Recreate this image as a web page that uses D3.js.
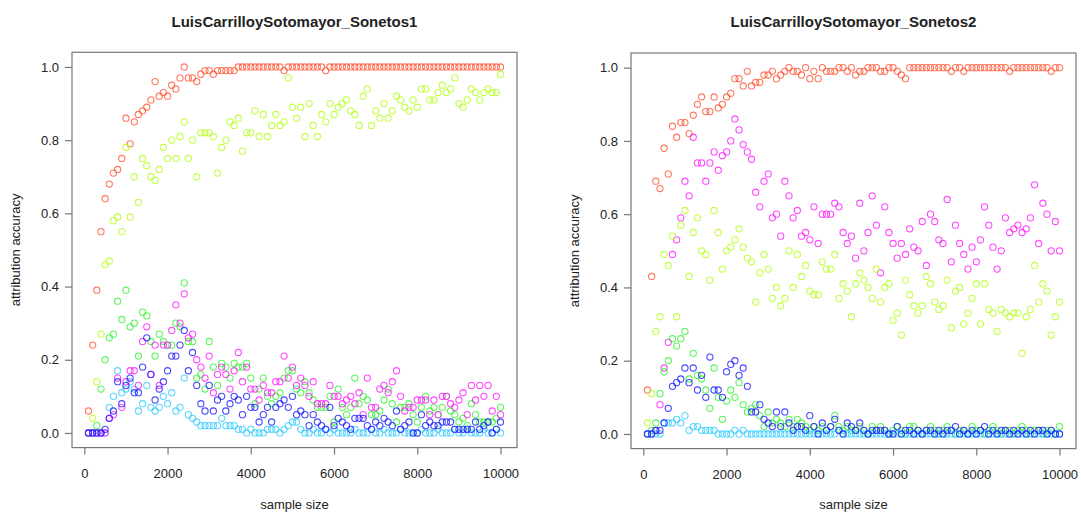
<!DOCTYPE html>
<html>
<head>
<meta charset="utf-8">
<script src="https://cdn.jsdelivr.net/npm/d3@7/dist/d3.min.js"></script>
<style>
  html, body { margin: 0; padding: 0; background: #ffffff; }
  svg { display: block; }
  text { font-family: "Liberation Sans", Arial, Helvetica, sans-serif; fill: #222; }
</style>
</head>
<body>
<svg id="chart" width="1081" height="518"></svg>
<script>
// ---------- data ----------
const sampleSizes = d3.range(100, 10001, 100);
const xTicks = [0, 2000, 4000, 6000, 8000, 10000];
const yTicks = [0.0, 0.2, 0.4, 0.6, 0.8, 1.0];
const titles = ["LuisCarrilloySotomayor_Sonetos1", "LuisCarrilloySotomayor_Sonetos2"];
const xLabel = "sample size";
const yLabel = "attribution accuracy";

const p1Red = [0.06,0.24,0.39,0.55,0.64,0.68,0.71,0.72,0.75,0.86,
 0.79,0.85,0.87,0.88,0.89,0.91,0.96,0.92,0.93,0.92,
 0.95,0.94,0.97,1.00,0.97,0.97,0.96,0.98,0.99,0.99,
 0.98,0.99,0.99,0.99,0.99,0.99,1,1,1,1,
 1,1,1,1,1,1,1,0.99,1,1,
 1,1,1,1,1,1,1,0.99,1,1,
 1,1,1,1,1,1,1,1,1,1,
 1,1,1,1,1,1,1,1,1,1,
 1,1,1,1,1,1,1,1,1,1,
 1,1,1,1,1,1,1,1,1,1];
const p1YellowGreen = [0.00,0.04,0.14,0.27,0.46,0.47,0.58,0.59,0.55,0.78,
 0.59,0.70,0.63,0.75,0.73,0.70,0.69,0.72,0.78,0.75,
 0.80,0.75,0.81,0.85,0.75,0.80,0.70,0.82,0.82,0.82,
 0.81,0.71,0.78,0.80,0.85,0.84,0.86,0.77,0.82,0.82,
 0.88,0.81,0.87,0.81,0.84,0.87,0.84,0.85,0.97,0.89,
 0.86,0.89,0.81,0.90,0.84,0.81,0.87,0.85,0.90,0.87,
 0.89,0.90,0.91,0.88,0.87,0.84,0.92,0.94,0.84,0.88,
 0.86,0.90,0.86,0.88,0.92,0.91,0.89,0.88,0.91,0.89,
 0.94,0.94,0.91,0.91,0.93,0.95,0.93,0.94,0.97,0.90,
 0.89,0.91,0.94,0.93,0.91,0.93,0.94,0.93,0.93,0.98];
const p1Green = [0.00,0.00,0.02,0.12,0.20,0.26,0.27,0.36,0.31,0.39,
 0.29,0.30,0.21,0.33,0.32,0.25,0.21,0.27,0.25,0.24,
 0.24,0.30,0.29,0.41,0.25,0.25,0.15,0.16,0.12,0.25,
 0.18,0.13,0.19,0.18,0.15,0.19,0.18,0.18,0.19,0.15,
 0.08,0.12,0.15,0.10,0.08,0.10,0.11,0.15,0.17,0.17,
 0.12,0.11,0.14,0.11,0.09,0.07,0.07,0.07,0.10,0.03,
 0.12,0.07,0.05,0.07,0.15,0.08,0.10,0.09,0.05,0.05,
 0.06,0.09,0.12,0.08,0.03,0.07,0.07,0.08,0.05,0.03,
 0.07,0.10,0.06,0.07,0.05,0.07,0.10,0.06,0.05,0.03,
 0.04,0.02,0.08,0.05,0.03,0.03,0.03,0.03,0.04,0.07];
const p1Magenta = [0,0,0,0,0,0.04,0.05,0.15,0.07,0.14,
 0.17,0.17,0.13,0.25,0.29,0.16,0.24,0.13,0.24,0.24,
 0.28,0.35,0.30,0.38,0.26,0.27,0.20,0.18,0.15,0.21,
 0.11,0.16,0.18,0.16,0.12,0.17,0.22,0.14,0.18,0.12,
 0.12,0.09,0.13,0.11,0.11,0.14,0.14,0.21,0.15,0.18,
 0.13,0.15,0.13,0.10,0.14,0.08,0.08,0.08,0.13,0.10,
 0.10,0.08,0.09,0.10,0.08,0.11,0.05,0.15,0.07,0.07,
 0.12,0.13,0.11,0.14,0.17,0.10,0.06,0.07,0.07,0.09,
 0.09,0.09,0.05,0.09,0.05,0.10,0.10,0.08,0.07,0.09,
 0.11,0.05,0.13,0.09,0.13,0.10,0.13,0.06,0.10,0.05];
const p1Blue = [0,0,0,0,0.01,0.04,0.06,0.14,0.08,0.13,
 0.15,0.11,0.11,0.18,0.26,0.16,0.09,0.12,0.14,0.17,
 0.21,0.21,0.24,0.28,0.17,0.22,0.13,0.08,0.06,0.13,
 0.06,0.09,0.10,0.06,0.08,0.10,0.09,0.05,0.10,0.07,
 0.07,0.03,0.05,0.07,0.03,0.07,0.08,0.09,0.07,0.10,
 0.05,0.06,0.05,0.02,0.05,0.03,0.02,0.01,0.07,0.02,
 0.04,0.03,0.02,0.01,0.04,0.04,0.04,0.02,0.01,0.03,
 0.02,0.04,0.03,0.02,0.06,0.01,0.02,0.03,0,0,
 0.05,0.02,0.03,0.02,0.02,0.03,0.03,0.03,0.01,0.01,
 0.01,0.01,0.01,0.03,0.01,0.02,0.03,0,0.01,0.03];
const p1Cyan = [0,0,0,0,0,0.07,0.10,0.17,0.11,0.12,
 0.14,0.12,0.06,0.08,0.13,0.07,0.06,0.07,0.10,0.08,
 0.11,0.06,0.07,0.15,0.05,0.04,0.03,0.02,0.02,0.02,
 0.02,0.02,0.04,0.02,0.02,0.02,0.01,0.01,0,0.01,
 0,0,0,0.01,0.01,0.01,0,0.01,0.02,0.03,
 0.03,0.01,0,0,0.01,0,0,0.01,0,0.01,
 0,0,0,0,0.01,0,0,0,0.01,0,
 0,0.01,0,0,0,0.01,0,0,0,0,
 0.01,0,0,0,0.01,0,0,0,0.01,0,
 0,0.01,0,0,0,0.01,0,0,0.01,0];

const p2Red = [0.12,0.43,0.69,0.67,0.78,0.71,0.84,0.81,0.85,0.85,
 0.82,0.87,0.90,0.92,0.88,0.88,0.92,0.89,0.90,0.92,
 0.93,0.97,0.97,0.95,0.99,0.95,0.96,0.96,0.98,0.98,
 0.99,0.97,0.98,0.99,1.00,0.99,0.99,0.98,1.00,0.97,
 0.99,0.97,1.00,0.99,0.99,0.99,1.00,1.00,0.99,1.00,
 0.98,0.99,0.99,1,1,1,0.99,0.99,1,1,
 0.99,0.98,0.97,1,1,1,1,1,1,1,
 1,1,1,0.99,1,1,0.99,1,1,1,
 1,1,1,1,1,1,1,0.99,1,1,
 1,1,1,1,1,1,1,0.99,1,1];
const p2Magenta = [0,0,0.01,0.08,0.18,0.25,0.49,0.53,0.59,0.69,
 0.65,0.81,0.74,0.74,0.69,0.74,0.77,0.72,0.76,0.77,
 0.80,0.86,0.83,0.79,0.77,0.75,0.66,0.62,0.69,0.71,
 0.59,0.60,0.54,0.69,0.65,0.59,0.61,0.54,0.55,0.53,
 0.62,0.52,0.60,0.60,0.60,0.63,0.62,0.55,0.52,0.54,
 0.48,0.63,0.50,0.55,0.65,0.57,0.44,0.62,0.55,0.52,
 0.48,0.52,0.49,0.56,0.51,0.50,0.58,0.46,0.60,0.58,
 0.53,0.52,0.64,0.47,0.57,0.52,0.49,0.45,0.51,0.47,
 0.53,0.62,0.57,0.51,0.45,0.50,0.59,0.55,0.56,0.57,
 0.55,0.56,0.59,0.68,0.52,0.63,0.60,0.50,0.58,0.50];
const p2YellowGreen = [0.03,0.11,0.28,0.32,0.49,0.46,0.54,0.32,0.57,0.61,
 0.43,0.55,0.59,0.50,0.49,0.42,0.61,0.55,0.45,0.50,
 0.51,0.53,0.56,0.51,0.48,0.47,0.36,0.44,0.49,0.45,
 0.37,0.40,0.35,0.37,0.50,0.40,0.49,0.43,0.46,0.39,
 0.38,0.38,0.47,0.45,0.45,0.49,0.37,0.41,0.39,0.32,
 0.41,0.44,0.42,0.40,0.37,0.45,0.36,0.40,0.41,0.31,
 0.33,0.27,0.42,0.38,0.35,0.33,0.35,0.43,0.41,0.36,
 0.34,0.35,0.42,0.29,0.39,0.40,0.30,0.33,0.37,0.41,
 0.30,0.41,0.34,0.33,0.28,0.34,0.33,0.32,0.33,0.33,
 0.22,0.32,0.34,0.46,0.36,0.41,0.39,0.27,0.32,0.36];
const p2Green = [0,0.01,0.03,0.11,0.17,0.20,0.26,0.24,0.26,0.28,
 0.15,0.22,0.16,0.15,0.12,0.07,0.18,0.10,0.04,0.09,
 0.12,0.10,0.14,0.08,0.06,0.07,0.08,0.05,0.02,0.06,
 0.03,0.04,0.03,0.02,0.04,0.02,0.04,0.03,0.02,0.01,
 0.02,0.01,0.02,0.01,0.02,0.05,0.02,0.01,0.02,0.01,
 0.01,0.02,0.01,0,0.02,0.01,0.02,0.01,0,0.01,
 0.02,0.01,0,0.02,0.02,0.01,0,0.01,0.02,0.01,
 0,0.01,0.02,0.01,0,0.01,0.01,0,0.02,0.01,
 0.01,0,0.01,0.02,0.01,0,0.01,0.01,0,0.01,
 0.02,0.01,0,0.01,0.01,0,0.01,0.01,0,0.02];
const p2Blue = [0,0,0.01,0.01,0.03,0.07,0.13,0.14,0.15,0.18,
 0.14,0.18,0.12,0.16,0.10,0.21,0.12,0.12,0.10,0.17,
 0.19,0.20,0.16,0.18,0.13,0.06,0.06,0.08,0.04,0.03,
 0.02,0.06,0.02,0.06,0.03,0.01,0.02,0.02,0.01,0.05,
 0.02,0,0.03,0.01,0.02,0.04,0.01,0,0.03,0.02,
 0.01,0.03,0.01,0,0.01,0.01,0.01,0.01,0,0,
 0.02,0,0.01,0.01,0,0.01,0,0.01,0.01,0,
 0.01,0,0.01,0.01,0.02,0,0.01,0,0.01,0,
 0.01,0.02,0,0.01,0,0.01,0.01,0,0.01,0,
 0.01,0,0.01,0,0.01,0.01,0,0.01,0,0];
const p2Cyan = [0,0,0,0,0.03,0.03,0.03,0.04,0.03,0.05,
 0.01,0.02,0.02,0.01,0.01,0.01,0.01,0,0,0,
 0,0.01,0,0.01,0,0,0,0,0,0,
 0,0,0,0,0,0,0,0,0,0,
 0,0,0,0,0,0,0.01,0,0,0,
 0,0,0,0,0,0,0,0,0,0,
 0,0,0,0,0,0,0,0,0,0,
 0,0,0,0,0,0,0,0,0,0,
 0,0,0,0,0,0,0,0,0,0,
 0,0,0,0,0,0,0,0,0,0];

const seriesColors = {
  red: "#ff5533", yellowGreen: "#b3ff1a", green: "#33f233",
  cyan: "#33ccff", blue: "#1a1aff", magenta: "#ff1aff"
};

const panels = [
  { title: titles[0], left: 72, right: 517, top: 52.3, bottom: 447.6,
    series: [["red", p1Red], ["yellowGreen", p1YellowGreen], ["green", p1Green],
             ["cyan", p1Cyan], ["magenta", p1Magenta], ["blue", p1Blue]] },
  { title: titles[1], left: 631, right: 1076, top: 53, bottom: 448.6,
    series: [["red", p2Red], ["magenta", p2Magenta], ["yellowGreen", p2YellowGreen],
             ["green", p2Green], ["cyan", p2Cyan], ["blue", p2Blue]] }
];

// ---------- drawing ----------
const svg = d3.select("#chart");
const axisColor = "#777";

panels.forEach(p => {
  const x = d3.scaleLinear().domain([-296, 10396]).range([p.left, p.right]);
  const y = d3.scaleLinear().domain([-0.04, 1.04]).range([p.bottom, p.top]);
  const g = svg.append("g");

  // points
  p.series.forEach(([name, vals]) => {
    g.append("g").selectAll("circle")
      .data(vals.map((v, i) => [sampleSizes[i], v]))
      .join("circle")
      .attr("cx", d => x(d[0]))
      .attr("cy", d => y(d[1]))
      .attr("r", 3.1)
      .attr("fill", "none")
      .attr("stroke", seriesColors[name])
      .attr("stroke-opacity", 0.8)
      .attr("stroke-width", 1.1);
  });

  // box
  g.append("rect")
    .attr("x", p.left).attr("y", p.top)
    .attr("width", p.right - p.left).attr("height", p.bottom - p.top)
    .attr("fill", "none").attr("stroke", axisColor).attr("stroke-width", 1.2);

  // x axis
  const xa = g.append("g").attr("transform", `translate(0,${p.bottom})`)
    .call(d3.axisBottom(x).tickValues(xTicks).tickSize(7).tickPadding(14)
      .tickFormat(d3.format("d")));
  xa.select(".domain").remove();
  xa.selectAll("line").attr("stroke", axisColor).attr("stroke-width", 1.2);
  xa.selectAll("text").attr("font-size", 13).attr("fill", "#222")
    .attr("font-family", "Liberation Sans, Arial, sans-serif");

  // y axis
  const ya = g.append("g").attr("transform", `translate(${p.left},0)`)
    .call(d3.axisLeft(y).tickValues(yTicks).tickSize(7).tickPadding(6)
      .tickFormat(d3.format(".1f")));
  ya.select(".domain").remove();
  ya.selectAll("line").attr("stroke", axisColor).attr("stroke-width", 1.2);
  ya.selectAll("text").attr("font-size", 13).attr("fill", "#222")
    .attr("font-family", "Liberation Sans, Arial, sans-serif");

  // title
  g.append("text")
    .attr("x", (p.left + p.right) / 2).attr("y", 27)
    .attr("text-anchor", "middle").attr("font-size", 15).attr("font-weight", "bold")
    .text(p.title);

  // x label
  g.append("text")
    .attr("x", (p.left + p.right) / 2).attr("y", 509)
    .attr("text-anchor", "middle").attr("font-size", 13)
    .text(xLabel);

  // y label
  const yl = p.left - 52, yc = (p.top + p.bottom) / 2;
  g.append("text")
    .attr("transform", `translate(${yl},${yc}) rotate(-90)`)
    .attr("text-anchor", "middle").attr("font-size", 13)
    .text(yLabel);
});
</script>
</body>
</html>
